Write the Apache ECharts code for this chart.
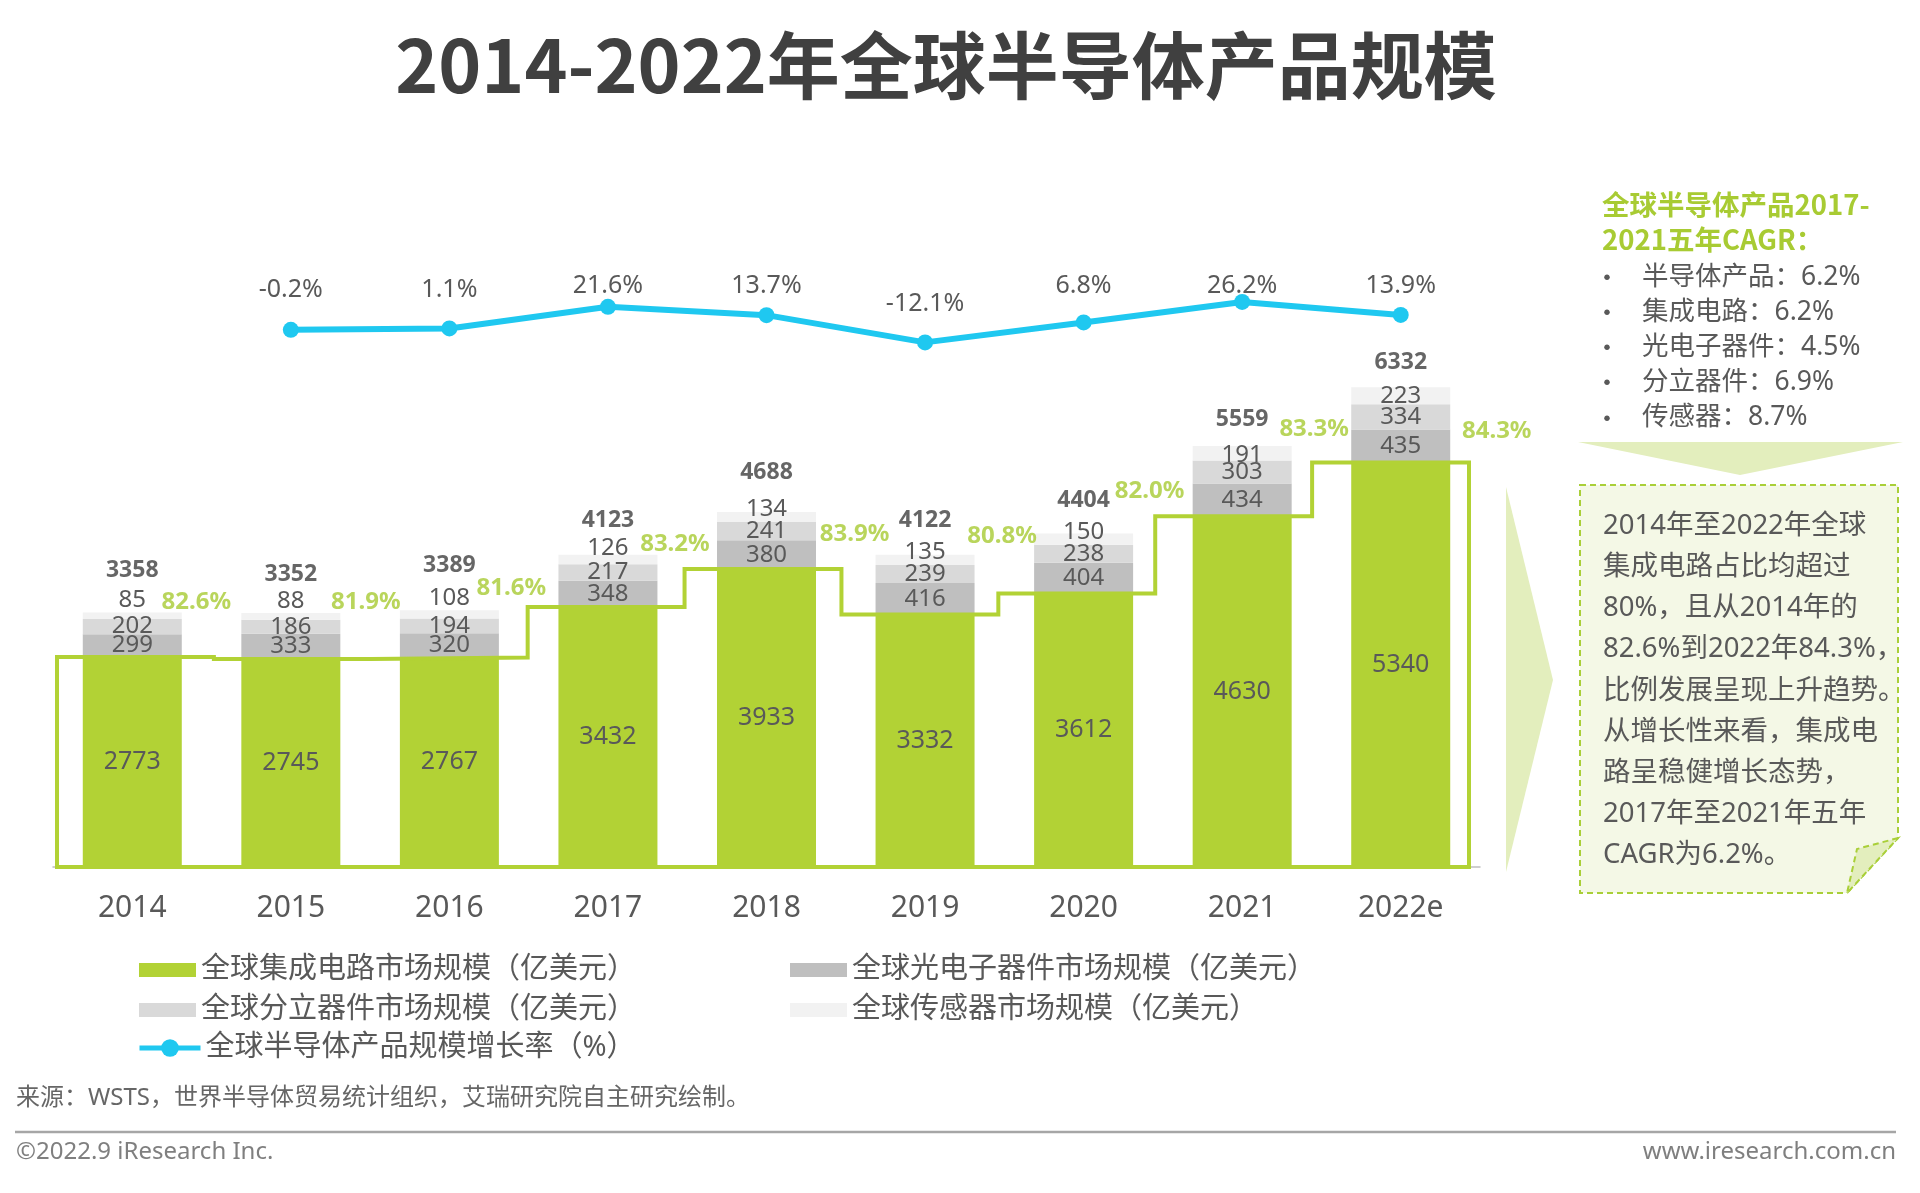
<!DOCTYPE html>
<html><head><meta charset="utf-8">
<script src="https://cdn.jsdelivr.net/npm/echarts@6/dist/echarts.min.js"></script>
<style>html,body{margin:0;padding:0;background:#fff}#c{width:1920px;height:1193px}</style>
</head><body><div id="c"></div>
<script>
// ---------------- data ----------------
const categories = ['2014', '2015', '2016', '2017', '2018', '2019', '2020', '2021', '2022e'];
const icValues = [2773, 2745, 2767, 3432, 3933, 3332, 3612, 4630, 5340];
const optoValues = [299, 333, 320, 348, 380, 416, 404, 434, 435];
const discreteValues = [202, 186, 194, 217, 241, 239, 238, 303, 334];
const sensorValues = [85, 88, 108, 126, 134, 135, 150, 191, 223];
const totalValues = [3358, 3352, 3389, 4123, 4688, 4122, 4404, 5559, 6332];
const icSharePct = [82.6, 81.9, 81.6, 83.2, 83.9, 80.8, 82.0, 83.3, 84.3];
const growthPct = [null, -0.2, 1.1, 21.6, 13.7, -12.1, 6.8, 26.2, 13.9];
const seriesNames = ['全球集成电路市场规模（亿美元）', '全球光电子器件市场规模（亿美元）', '全球分立器件市场规模（亿美元）', '全球传感器市场规模（亿美元）', '全球半导体产品规模增长率（%）'];
const cagrTitle = ['全球半导体产品2017-', '2021五年CAGR：'];
const cagrItems = [['半导体产品', '6.2%'], ['集成电路', '6.2%'], ['光电子器件', '4.5%'], ['分立器件', '6.9%'], ['传感器', '8.7%']];
const noteLines = ['2014年至2022年全球', '集成电路占比均超过', '80%，且从2014年的', '82.6%到2022年84.3%，', '比例发展呈现上升趋势。', '从增长性来看，集成电', '路呈稳健增长态势，', '2017年至2021年五年', 'CAGR为6.2%。'];

// ---------------- label nudges (layout only) ----------------
const sensorLabelDy = [-16, -15, -16, -11, -8, -8, -7, 2, 0];
const totalLabelDy = [-42, -39, -45, -34, -39, -34, -33, -26, -25];
const shareLabelDx = [64, 75, 62, 67, 88, 77, 66, 72, 96];
const shareLabelDy = [-10, -11, -22, -11, 22, -19, -42, -17, 44];
const growthLabelDy = [0, -40, -39, -21, -29, -39, -37, -16, -29];

const FONT = "'Noto Sans', 'Noto Sans CJK SC', sans-serif";
const GREEN = '#B2D235';
const GREEN_TXT = '#A8CB33';
const CYAN = '#1FC8F0';
const TXT = '#595959';

// step outline around IC level, built from icValues
const stepOutline = [[-0.5, 0]];
icValues.forEach((v, i) => { stepOutline.push([i - 0.5, v], [i + 0.5, v]); });
stepOutline.push([icValues.length - 0.5, 0], [-0.5, 0]);

const chart = echarts.init(document.getElementById('c'), null, { renderer: 'canvas' });

function barLabel(size) {
  return { show: true, position: 'inside', fontSize: size, color: TXT, fontFamily: FONT };
}
function txt(text, x, y, font, fill, align) {
  return { type: 'text', style: { text: text, x: x, y: y, font: font, fill: fill, textAlign: align, align: align, textVerticalAlign: 'middle', verticalAlign: 'middle' } };
}

const graphic = [];
// title
graphic.push(txt('2014-2022年全球半导体产品规模', 946, 65, "bold 73px 'Noto Sans CJK SC', sans-serif", '#404040', 'center'));
// pointer triangle
graphic.push({ type: 'polygon', shape: { points: [[1506, 487], [1553, 680], [1506, 872]] }, style: { fill: '#E3EEBD' }, z: 1 });
// right panel title
cagrTitle.forEach((t, k) => graphic.push(txt(t, 1602, 205 + k * 35, "bold 27.5px 'Noto Sans CJK SC', sans-serif", GREEN_TXT, 'left')));
cagrItems.forEach((it, k) => {
  const y = 277 + k * 35.2;
  graphic.push(txt('•', 1607, y, "26px 'Noto Sans CJK SC', sans-serif", TXT, 'center'));
  graphic.push(txt(it[0] + '：' + it[1], 1642, y, "26.5px " + FONT, TXT, 'left'));
});
// down arrow
graphic.push({ type: 'polygon', shape: { points: [[1578, 442], [1903, 442], [1740, 475]] }, style: { fill: '#E3EEBD' } });
// note box
graphic.push({ type: 'polygon', shape: { points: [[1580, 485], [1898, 485], [1898, 838], [1847, 893], [1580, 893]] }, style: { fill: '#F4F8E6', stroke: '#A9CF38', lineWidth: 2, lineDash: [6, 4] } });
graphic.push({ type: 'polygon', shape: { points: [[1898, 838], [1857, 849], [1847, 893]] }, style: { fill: '#E3EEBD', stroke: '#A9CF38', lineWidth: 2, lineDash: [6, 4] } });
noteLines.forEach((t, k) => graphic.push(txt(t, 1603, 526 + k * 41.2, "27.5px " + FONT, TXT, 'left')));
// source, separator, footer
graphic.push(txt('来源：WSTS，世界半导体贸易统计组织，艾瑞研究院自主研究绘制。', 16, 1098, "24px " + FONT, '#666666', 'left'));
graphic.push({ type: 'line', shape: { x1: 15, y1: 1132, x2: 1896, y2: 1132 }, style: { stroke: '#A6A6A6', lineWidth: 2.5 } });
graphic.push(txt('©2022.9 iResearch Inc.', 16, 1152, "24px " + FONT, '#7F7F7F', 'left'));
graphic.push(txt('www.iresearch.com.cn', 1896, 1152, "24px " + FONT, '#7F7F7F', 'right'));

function legendAt(name, left, rowCenter, isLine) {
  const lg = {
    data: [name], left: left, top: rowCenter - 12, padding: 0,
    itemWidth: isLine ? 61 : 57, itemHeight: isLine ? 22 : 14, itemGap: 0,
    textStyle: { fontSize: 29, color: TXT, fontFamily: FONT, lineHeight: 30 },
    selectedMode: false
  };
  if (isLine) { lg.lineStyle = { width: 5, color: CYAN }; } else { lg.icon = 'rect'; }
  return lg;
}

const option = {
  animation: false,
  backgroundColor: '#ffffff',
  textStyle: { fontFamily: FONT },
  grid: { left: 53, right: 440, top: 261, bottom: 326, containLabel: false },
  xAxis: [
    { type: 'category', data: categories, axisTick: { show: false },
      axisLine: { show: true, lineStyle: { color: '#BFBFBF', width: 1.5 } },
      axisLabel: { fontSize: 30, color: TXT, margin: 26, fontFamily: FONT } },
    { type: 'value', min: -0.5255, max: 8.5701, show: false }
  ],
  yAxis: [
    { type: 'value', min: 0, max: 8000, show: false, splitLine: { show: false } },
    { type: 'value', min: -509, max: 65, show: false, splitLine: { show: false } }
  ],
  legend: [
    legendAt(seriesNames[0], 139, 967, false),
    legendAt(seriesNames[1], 790, 967, false),
    legendAt(seriesNames[2], 139, 1007, false),
    legendAt(seriesNames[3], 790, 1007, false),
    legendAt(seriesNames[4], 137, 1045, true)
  ],
  graphic: graphic,
  series: [
    { name: seriesNames[0], type: 'bar', stack: 'tot', barWidth: 99, data: icValues,
      itemStyle: { color: GREEN }, label: barLabel(25) },
    { name: seriesNames[1], type: 'bar', stack: 'tot', barWidth: 99, data: optoValues,
      itemStyle: { color: '#BFBFBF' }, label: barLabel(24) },
    { name: seriesNames[2], type: 'bar', stack: 'tot', barWidth: 99, data: discreteValues,
      itemStyle: { color: '#D9D9D9' }, label: barLabel(24) },
    { name: seriesNames[3], type: 'bar', stack: 'tot', barWidth: 99,
      data: sensorValues.map((v, i) => ({ value: v, label: { offset: [0, sensorLabelDy[i]] } })),
      itemStyle: { color: '#F2F2F2' }, label: barLabel(24) },
    { name: 'step', type: 'line', xAxisIndex: 1, yAxisIndex: 0, data: stepOutline, symbol: 'none',
      lineStyle: { color: GREEN, width: 4, join: 'miter', cap: 'square' }, z: 5, silent: true },
    { name: 'total', type: 'scatter', symbolSize: 1, itemStyle: { color: 'rgba(0,0,0,0)' }, silent: true, z: 6,
      data: totalValues.map((v, i) => ({ value: v, label: { offset: [0, totalLabelDy[i]] } })),
      label: { show: true, position: 'inside', fontSize: 23, fontWeight: 'bold', color: '#404040', fontFamily: FONT } },
    { name: 'share', type: 'scatter', symbolSize: 1, itemStyle: { color: 'rgba(0,0,0,0)' }, silent: true, z: 6,
      data: totalValues.map((v, i) => ({ value: v, label: { offset: [shareLabelDx[i], shareLabelDy[i]] } })),
      label: { show: true, position: 'inside', fontSize: 24, fontWeight: 'bold', color: GREEN_TXT, fontFamily: FONT,
        formatter: p => icSharePct[p.dataIndex].toFixed(1) + '%' } },
    { name: seriesNames[4], type: 'line', yAxisIndex: 1, z: 7,
      data: growthPct.map((v, i) => v === null ? '-' : ({ value: v, label: { offset: [0, growthLabelDy[i]] } })),
      symbol: 'circle', symbolSize: 16, itemStyle: { color: CYAN },
      lineStyle: { color: CYAN, width: 6 },
      label: { show: true, position: 'inside', fontSize: 25, color: TXT, fontFamily: FONT, formatter: p => p.value + '%' } }
  ]
};
chart.setOption(option);
</script>
</body></html>
